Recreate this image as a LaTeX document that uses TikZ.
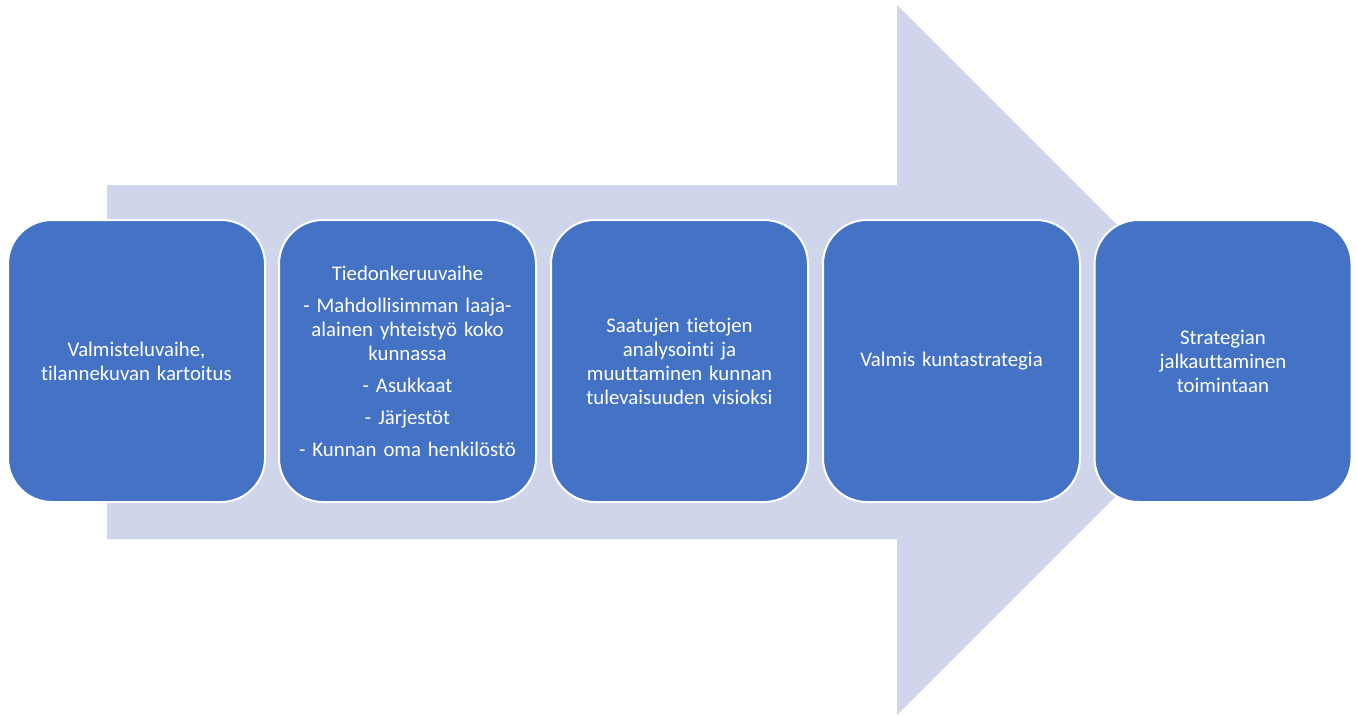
\documentclass[tikz,border=0pt]{standalone}
\usepackage{fontspec}
\setmainfont{Carlito}[Ligatures={NoCommon}]
\definecolor{boxblue}{HTML}{4472C4}
\definecolor{arrowc}{HTML}{CFD5EA}
\begin{document}
\begin{tikzpicture}[x=1pt,y=-1pt,
  phase/.style={draw=white, line width=2pt, fill=boxblue, rounded corners=44pt,
    minimum width=257pt, minimum height=282pt, text width=240pt, align=center,
    text=white, inner sep=0pt, font=\fontsize{20.8}{24}\selectfont}]
\useasboundingbox (0,0) rectangle (1357,715);
\fill[arrowc] (107,185) -- (897,185) -- (897,5) -- (1252,360) -- (897,715) -- (897,539) -- (107,539) -- cycle;
\node[phase] (p1) at (136.5,361) {Valmisteluvaihe,\\tilannekuvan kartoitus};
\node[phase] (p2) at (407.5,361) {Tiedonkeruuvaihe\\[8pt]- Mahdollisimman laaja-\\alainen yhteistyö koko\\kunnassa\\[8pt]- Asukkaat\\[8pt]- Järjestöt\\[8pt]- Kunnan oma henkilöstö};
\node[phase] (p3) at (679.5,361) {Saatujen tietojen\\analysointi ja\\muuttaminen kunnan\\tulevaisuuden visioksi};
\node[phase] (p4) at (951.5,361) {Valmis kuntastrategia};
\node[phase] (p5) at (1223,361) {Strategian\\jalkauttaminen\\toimintaan};
\end{tikzpicture}
\end{document}
